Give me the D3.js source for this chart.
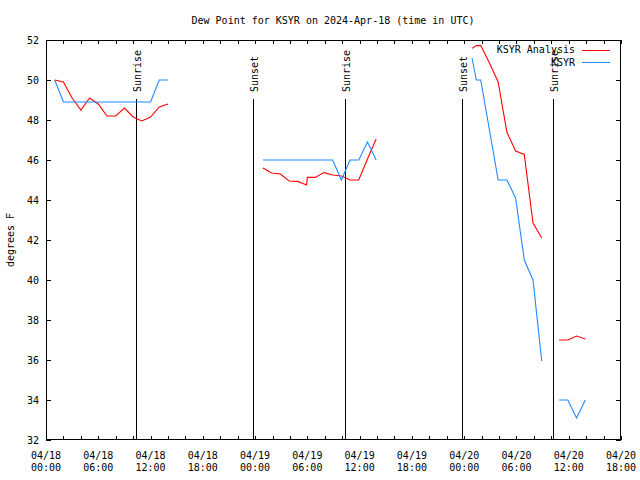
<!DOCTYPE html>
<html><head><meta charset="utf-8">
<script src="https://cdn.jsdelivr.net/npm/d3@7"></script>
<style>body{margin:0;background:#fff}svg{display:block}text{font-family:"DejaVu Sans Mono","Liberation Mono",monospace;font-size:10px;fill:#000}</style>
</head><body><svg id="c" width="640" height="480"></svg>
<script>
// hours since 2024-04-18 00:00 UTC; null marks a gap in the record
const analysisHours = [1,2,3,4,5,6,7,8,9,10,11,12,13,14,null,
  24.9,25.9,26.9,27.9,28.9,29.9,30.0,30.9,31.9,32.9,33.9,34.9,35.9,36.9,37.9,null,
  48.9,49.4,49.9,50.9,51.9,52.9,53.9,54.9,55.9,56.9,null,
  58.9,59.9,60.9,61.9];
const analysisValues = [50.0,49.9,49.1,48.5,49.1,48.8,48.2,48.2,48.6,48.15,47.95,48.15,48.65,48.8,null,
  45.6,45.35,45.3,44.95,44.93,44.75,45.13,45.13,45.37,45.25,45.2,45.0,45.0,46.05,47.05,null,
  51.58,51.72,51.72,50.85,49.9,47.4,46.45,46.28,42.85,42.1,null,
  37.0,37.0,37.2,37.05];
const obsHours = [1,2,3,4,5,6,7,8,9,10,11,12,13,14,null,
  24.9,25.9,26.9,27.9,28.9,29.9,30.9,31.9,32.9,33.9,34.9,35.9,36.9,37.9,null,
  48.9,49.4,49.9,51.9,52.9,53.9,54.9,55.9,56.9,null,
  58.9,59.9,60.9,61.9];
const obsValues = [50.0,48.9,48.9,48.9,48.9,48.9,48.9,48.9,48.9,48.9,48.9,48.9,50.0,50.0,null,
  46.0,46.0,46.0,46.0,46.0,46.0,46.0,46.0,46.0,45.0,46.0,46.0,46.9,46.0,null,
  51.1,50.0,50.0,45.0,45.0,44.1,41.0,40.0,35.95,null,
  34.0,34.0,33.1,34.0];
const sunHours = [10.32,23.75,34.36,47.72,58.24];
const sunLabels = ["Sunrise","Sunset","Sunrise","Sunset","Sunrise"];
const yTicks = [32,34,36,38,40,42,44,46,48,50,52];
const seriesNames = ["KSYR Analysis","KSYR"];
const title = "Dew Point for KSYR on 2024-Apr-18 (time in UTC)";
const yLabel = "degrees F";

const t0 = Date.UTC(2024,3,18);
const toDate = h => new Date(t0 + h*3600e3);
const L=46,R=621,T=40,B=440;
const x = d3.scaleUtc().domain([toDate(0), toDate(66)]).range([L,R]);
const y = d3.scaleLinear().domain([32,52]).range([B,T]);
const svg = d3.select("#c");

const pts = (hs, vs) => hs.map((h,i)=> h===null ? null : {d:toDate(h), v:vs[i]});
const line = d3.line().defined(d=>d!==null).x(d=>x(d.d)).y(d=>y(d.v));

// frame
svg.append("rect").attr("x",L+0.5).attr("y",T+0.5).attr("width",R-L-1).attr("height",B-T-1)
  .attr("fill","none").attr("stroke","#000").attr("shape-rendering","crispEdges");

// x ticks
const xt = d3.utcHour.every(2).range(toDate(0), toDate(66.01));
const g = svg.append("g").attr("shape-rendering","crispEdges");
xt.forEach(d=>{
  const xx=Math.round(x(d))+0.5;
  g.append("line").attr("x1",xx).attr("x2",xx).attr("y1",B).attr("y2",B-4).attr("stroke","#000");
  g.append("line").attr("x1",xx).attr("x2",xx).attr("y1",T).attr("y2",T+4).attr("stroke","#000");
});
const xl = d3.utcHour.every(6).range(toDate(0), toDate(66.01));
const fmt1=d3.utcFormat("%m/%d"), fmt2=d3.utcFormat("%H:%M");
xl.forEach(d=>{
  svg.append("text").attr("x",x(d)).attr("y",459).attr("text-anchor","middle").text(fmt1(d));
  svg.append("text").attr("x",x(d)).attr("y",471).attr("text-anchor","middle").text(fmt2(d));
});
// y ticks
yTicks.forEach(v=>{
  const yy=Math.round(y(v))+0.5;
  g.append("line").attr("x1",L).attr("x2",L+5).attr("y1",yy).attr("y2",yy).attr("stroke","#000");
  g.append("line").attr("x1",R-5).attr("x2",R).attr("y1",yy).attr("y2",yy).attr("stroke","#000");
  svg.append("text").attr("x",39).attr("y",y(v)+4).attr("text-anchor","end").text(v);
});

// title & y label
svg.append("text").attr("x",333).attr("y",24).attr("text-anchor","middle").text(title);
svg.append("text").attr("transform","translate(14,240) rotate(-90)").attr("text-anchor","middle").text(yLabel);

// sun lines
sunHours.forEach((h,i)=>{
  const xx=Math.round(x(toDate(h)))+0.5;
  g.append("line").attr("x1",xx).attr("x2",xx).attr("y1",99).attr("y2",B).attr("stroke","#000");
  svg.append("text").attr("transform",`translate(${xx},92) rotate(-90)`).attr("dy","0.45em").text(sunLabels[i]);
});

// series
const colors=["#ff0000","#1e88ff"];
svg.append("path").datum(pts(analysisHours,analysisValues)).attr("d",line)
  .attr("fill","none").attr("stroke",colors[0]).attr("stroke-width",1.1);
svg.append("path").datum(pts(obsHours,obsValues)).attr("d",line)
  .attr("fill","none").attr("stroke",colors[1]).attr("stroke-width",1.1);

// legend
seriesNames.forEach((n,i)=>{
  const yy=49.5+i*12.5;
  svg.append("text").attr("x",575).attr("y",yy+3.5).attr("text-anchor","end").text(n);
  svg.append("line").attr("x1",582).attr("x2",610).attr("y1",Math.round(yy)+0.5).attr("y2",Math.round(yy)+0.5)
    .attr("stroke",colors[i]).attr("shape-rendering","crispEdges");
});
</script></body></html>
